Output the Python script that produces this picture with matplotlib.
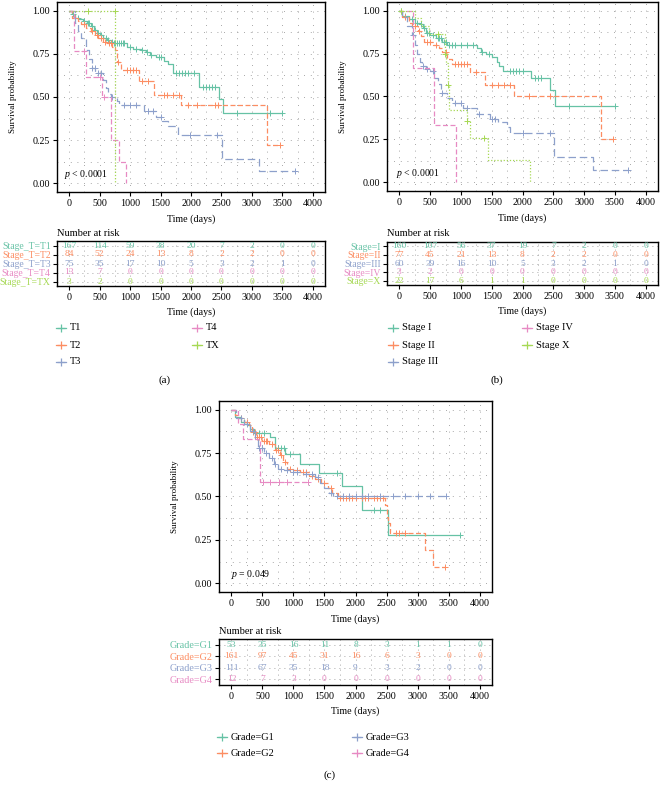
import numpy as np
import matplotlib.pyplot as plt

plt.rcParams['font.family'] = ['Liberation Serif', 'DejaVu Serif']
plt.rcParams['mathtext.fontset'] = 'custom'
plt.rcParams['mathtext.it'] = 'Liberation Serif:italic'
plt.rcParams['mathtext.rm'] = 'Liberation Serif'

W, H = 664, 796
green, orange, blue, pink, lime = '#66c2a5', '#fc8d62', '#8da0cb', '#e78ac3', '#a6d854'
risk_times = [0, 500, 1000, 1500, 2000, 2500, 3000, 3500, 4000]

# ---- (a) Stage_T ----
t1_time = [0, 40, 100, 160, 230, 300, 350, 400, 450, 500, 560, 620, 680, 720, 950, 1050,
           1180, 1260, 1320, 1420, 1550, 1620, 1700, 2130, 2460, 2520]
t1_surv = [1.0, 0.98, 0.96, 0.95, 0.94, 0.93, 0.91, 0.89, 0.87, 0.86, 0.84, 0.83, 0.82, 0.81,
           0.79, 0.78, 0.77, 0.76, 0.745, 0.73, 0.71, 0.69, 0.64, 0.56, 0.49, 0.41]
t1_end = 3490
t1_cens = [60, 150, 250, 310, 330, 370, 420, 470, 520, 600, 640, 700, 740, 760, 790, 820, 850,
           880, 900, 1000, 1100, 1200, 1280, 1350, 1480, 1510, 1750, 1800, 1850, 1900, 1950,
           2050, 2200, 2250, 2300, 2350, 2400, 2750, 3300, 3490]

t2_time = [0, 50, 150, 200, 280, 350, 420, 480, 550, 620, 700, 760, 780, 850, 1150, 1400, 1840, 3250]
t2_surv = [1.0, 0.96, 0.94, 0.92, 0.90, 0.88, 0.86, 0.84, 0.82, 0.81, 0.79, 0.77, 0.70, 0.655,
           0.59, 0.51, 0.455, 0.225]
t2_end = 3460
t2_cens = [100, 250, 380, 450, 520, 590, 650, 680, 800, 950, 1000, 1050, 1100, 1200, 1300,
           1550, 1600, 1700, 1800, 1950, 2100, 2400, 2450, 3460]

t3_time = [0, 100, 150, 200, 270, 330, 370, 430, 560, 600, 640, 690, 780, 820, 1230, 1430,
           1530, 1620, 1790, 2510, 3120]
t3_surv = [1.0, 0.93, 0.88, 0.84, 0.77, 0.72, 0.67, 0.64, 0.60, 0.555, 0.52, 0.50, 0.475,
           0.455, 0.42, 0.385, 0.36, 0.33, 0.28, 0.14, 0.07]
t3_end = 3700
t3_cens = [380, 420, 480, 520, 700, 900, 1000, 1100, 1300, 1380, 1500, 1980, 2420, 3700]

t4_time = [0, 72, 85, 270, 547, 690, 826, 936]
t4_surv = [1.0, 0.923, 0.769, 0.615, 0.50, 0.25, 0.125, 0.0]
t4_end = 936
t4_cens = [250, 509, 575]

tx_time = [0, 755]
tx_surv = [1.0, 0.0]
tx_end = 755
tx_cens = [317, 750]

risk_a = [[167, 114, 59, 38, 20, 7, 2, 0, 0],
          [84, 52, 24, 13, 8, 2, 2, 0, 0],
          [75, 35, 17, 10, 5, 3, 2, 1, 0],
          [13, 7, 0, 0, 0, 0, 0, 0, 0],
          [3, 2, 0, 0, 0, 0, 0, 0, 0]]
rows_a = ['Stage_T=T1', 'Stage_T=T2', 'Stage_T=T3', 'Stage_T=T4', 'Stage_T=TX']
legend_a = ['T1', 'T2', 'T3', 'T4', 'TX']

# ---- (b) Stage ----
s1_time = [0, 50, 150, 250, 330, 380, 430, 500, 600, 700, 780, 1260, 1320, 1400, 1500, 1580,
           1620, 1690, 2136, 2445, 2520]
s1_surv = [1.0, 0.97, 0.95, 0.93, 0.92, 0.90, 0.87, 0.86, 0.84, 0.82, 0.80, 0.78, 0.76, 0.745,
           0.73, 0.70, 0.68, 0.65, 0.61, 0.535, 0.445]
s1_end = 3494
s1_cens = [30, 100, 200, 280, 350, 400, 450, 480, 550, 620, 650, 680, 720, 750, 800, 850, 900,
           1000, 1100, 1200, 1350, 1450, 1800, 1850, 1900, 1950, 2000, 2200, 2250, 2300, 2750, 3494]

s2_time = [0, 50, 150, 200, 300, 350, 400, 550, 650, 700, 780, 850, 1150, 1395, 1859, 3270]
s2_surv = [1.0, 0.96, 0.93, 0.91, 0.88, 0.85, 0.82, 0.80, 0.78, 0.76, 0.72, 0.69, 0.645,
           0.565, 0.50, 0.25]
s2_end = 3467
s2_cens = [100, 250, 320, 450, 500, 600, 750, 900, 950, 1000, 1050, 1100, 1250, 1500, 1600,
           1700, 1800, 2100, 2450, 3467]

s3_time = [0, 50, 130, 200, 250, 280, 330, 370, 430, 500, 560, 620, 680, 780, 850, 1028,
           1257, 1470, 1600, 1750, 1790, 2508, 3148]
s3_surv = [1.0, 0.96, 0.91, 0.86, 0.80, 0.75, 0.70, 0.68, 0.66, 0.65, 0.61, 0.57, 0.52, 0.49,
           0.46, 0.435, 0.40, 0.37, 0.35, 0.32, 0.285, 0.145, 0.072]
s3_end = 3707
s3_cens = [230, 380, 450, 540, 700, 900, 1000, 1100, 1300, 1500, 1550, 2000, 2450, 3707]

s4_time = [0, 218, 565, 927]
s4_surv = [1.0, 0.667, 0.333, 0.0]
s4_end = 927
s4_cens = []

sx_time = [0, 250, 350, 480, 742, 760, 785, 812, 1100, 1146, 1440, 2125]
sx_surv = [1.0, 0.955, 0.909, 0.864, 0.75, 0.694, 0.568, 0.42, 0.358, 0.26, 0.13, 0.0]
sx_end = 2125
sx_cens = [32, 634, 742, 785, 1103, 1377]

risk_b = [[160, 107, 56, 37, 19, 7, 2, 0, 0],
          [77, 45, 21, 13, 8, 2, 2, 0, 0],
          [60, 39, 16, 10, 5, 3, 2, 1, 0],
          [3, 2, 0, 0, 0, 0, 0, 0, 0],
          [22, 17, 6, 1, 1, 0, 0, 0, 0]]
rows_b = ['Stage=I', 'Stage=II', 'Stage=III', 'Stage=IV', 'Stage=X']
legend_b = ['Stage I', 'Stage II', 'Stage III', 'Stage IV', 'Stage X']

# ---- (c) Grade ----
g1_time = [0, 64, 150, 250, 300, 360, 620, 700, 870, 1098, 1419, 1778, 2110, 2517]
g1_surv = [1.0, 0.96, 0.93, 0.91, 0.89, 0.865, 0.84, 0.78, 0.745, 0.69, 0.635, 0.56, 0.42, 0.28]
g1_end = 3679
g1_cens = [200, 450, 520, 750, 800, 850, 950, 1700, 2300, 2400, 3679]

g2_time = [0, 60, 100, 200, 280, 330, 400, 500, 600, 700, 780, 830, 900, 1000, 1100, 1250,
           1350, 1450, 1550, 1620, 1720, 2480, 2500, 2520, 2550, 3117, 3250]
g2_surv = [1.0, 0.97, 0.95, 0.93, 0.91, 0.87, 0.84, 0.82, 0.80, 0.77, 0.74, 0.70, 0.66, 0.65,
           0.64, 0.62, 0.60, 0.58, 0.55, 0.52, 0.49, 0.45, 0.38, 0.35, 0.29, 0.19, 0.095]
g2_end = 3438
g2_cens = [150, 250, 350, 380, 420, 450, 480, 520, 550, 580, 650, 720, 750, 800, 870, 950,
           1050, 1150, 1200, 1300, 1400, 1500, 1600, 1750, 1800, 1850, 1900, 1950, 2000, 2100,
           2150, 2200, 2300, 2350, 2400, 2450, 2650, 2700, 2800, 3438]

g3_time = [0, 80, 200, 300, 380, 430, 530, 600, 680, 750, 850, 950, 1150, 1350, 1430, 1500,
           1570, 1644]
g3_surv = [1.0, 0.95, 0.92, 0.88, 0.83, 0.78, 0.75, 0.72, 0.69, 0.66, 0.65, 0.64, 0.63, 0.61,
           0.58, 0.55, 0.52, 0.50]
g3_end = 3465
g3_cens = [150, 250, 350, 450, 500, 560, 650, 700, 800, 900, 1000, 1050, 1200, 1300, 1400,
           1600, 1700, 1800, 1900, 2000, 2100, 2200, 2400, 2600, 2800, 3000, 3200, 3465]

g4_time = [0, 100, 182, 466]
g4_surv = [1.0, 0.917, 0.833, 0.583]
g4_end = 1230
g4_cens = [510, 620, 760, 900, 1230]

risk_c = [[53, 35, 16, 11, 8, 3, 1, 1, 0],
          [161, 97, 45, 31, 16, 6, 3, 0, 0],
          [111, 67, 35, 18, 9, 3, 2, 0, 0],
          [12, 7, 3, 0, 0, 0, 0, 0, 0]]
rows_c = ['Grade=G1', 'Grade=G2', 'Grade=G3', 'Grade=G4']
legend_c = ['Grade=G1', 'Grade=G2', 'Grade=G3', 'Grade=G4']

colors = [green, orange, blue, pink, lime]
styles = ['-', (0, (4, 2)), (0, (6, 3)), (0, (4, 2)), (0, (1, 1.5))]

fig = plt.figure(figsize=(W / 100, H / 100), dpi=100)
over = fig.add_axes([0, 0, 1, 1])
over.set_xlim(0, W)
over.set_ylim(H, 0)
over.axis('off')


def box(l, t, r, b):
    return [l / W, 1 - b / H, (r - l) / W, (b - t) / H]


def km(ax, t, s, end, cens, color, ls):
    ax.step(list(t) + [end], list(s) + [s[-1]], where='post', color=color, ls=ls, lw=0.9)
    if len(cens):
        idx = np.searchsorted(t, cens, side='right') - 1
        ax.plot(cens, np.array(s)[idx], ls='none', marker='+', ms=4.5, mew=0.7, color=color)


def dotted_grid(ax):
    ax.grid(which='both', ls=(0, (1, 7)), color='#8a8a8a', lw=0.6)
    ax.tick_params(which='minor', length=0)
    ax.tick_params(which='major', length=3, width=0.8, labelsize=7.2, pad=2)
    for sp in ax.spines.values():
        sp.set_linewidth(1.0)


def panel(main_box, table_box, curves, pval, pval_x, risk, rows, row_fs):
    ax = fig.add_axes(box(*main_box))
    for (t, s, end, cens), c, ls in zip(curves, colors, styles):
        km(ax, t, s, end, cens, c, ls)
    ax.set_xlim(-200, 4200)
    ax.set_ylim(-0.05, 1.05)
    ax.set_xticks(risk_times)
    ax.set_xticks(np.arange(0, 4001, 250), minor=True)
    ax.set_yticks([0, 0.25, 0.5, 0.75, 1.0])
    ax.set_yticklabels(['0.00', '0.25', '0.50', '0.75', '1.00'])
    ax.set_yticks(np.arange(0, 1.01, 0.125), minor=True)
    dotted_grid(ax)
    ax.set_xlabel('Time (days)', fontsize=7.2, labelpad=5)
    ax.set_ylabel('Survival probability', fontsize=6.5, labelpad=11)
    ax.text(pval_x, 0.05, pval, fontsize=7, va='center', ha='left')

    tb = fig.add_axes(box(*table_box))
    n = len(risk)
    for i, vals in enumerate(risk):
        for x, v in zip(risk_times, vals):
            tb.text(x, i, str(v), ha='center', va='center', fontsize=6.8, color=colors[i])
    tb.set_xlim(-200, 4200)
    tb.set_ylim(n - 0.5, -0.5)
    tb.set_xticks(risk_times)
    tb.set_xticks(np.arange(0, 4001, 250), minor=True)
    tb.set_yticks(range(n))
    tb.set_yticklabels(rows, fontsize=row_fs)
    for lab, c in zip(tb.get_yticklabels(), colors):
        lab.set_color(c)
    dotted_grid(tb)
    tb.grid(which='both', visible=False)
    tb.grid(axis='x', which='both', ls=(0, (1, 5)), color='#8a8a8a', lw=0.6)
    tb.grid(axis='y', which='major', ls=(0, (1, 5)), color='#8a8a8a', lw=0.6)
    tb.tick_params(axis='y', labelsize=row_fs, pad=1.5)
    tb.set_xlabel('Time (days)', fontsize=7.2, labelpad=4)
    over.text(table_box[0], table_box[1] - 8, 'Number at risk', fontsize=7.5, va='center', ha='left')


def legend(labels, xs, ys, ncol1):
    for k, lab in enumerate(labels):
        col = 0 if k < ncol1 else 1
        row = k if k < ncol1 else k - ncol1
        x, y = xs[col], ys[row]
        over.plot([x - 5, x + 5], [y, y], color=colors[k], lw=0.9)
        over.plot([x], [y], marker='+', ms=5.5, mew=0.9, color=colors[k])
        over.text(x + 9, y, lab, fontsize=7.5, va='center', ha='left')


curves_a = [(t1_time, t1_surv, t1_end, t1_cens), (t2_time, t2_surv, t2_end, t2_cens),
            (t3_time, t3_surv, t3_end, t3_cens), (t4_time, t4_surv, t4_end, t4_cens),
            (tx_time, tx_surv, tx_end, tx_cens)]
curves_b = [(s1_time, s1_surv, s1_end, s1_cens), (s2_time, s2_surv, s2_end, s2_cens),
            (s3_time, s3_surv, s3_end, s3_cens), (s4_time, s4_surv, s4_end, s4_cens),
            (sx_time, sx_surv, sx_end, sx_cens)]
curves_c = [(g1_time, g1_surv, g1_end, g1_cens), (g2_time, g2_surv, g2_end, g2_cens),
            (g3_time, g3_surv, g3_end, g3_cens), (g4_time, g4_surv, g4_end, g4_cens)]

panel((57, 2, 325, 192), (57, 241, 325, 286), curves_a, r'$p$ < 0.0001', -80,
      risk_a, rows_a, 7.0)
panel((387, 2, 658, 191), (387, 242, 658, 285), curves_b, r'$p$ < 0.0001', -50,
      risk_b, rows_b, 7)
panel((219, 401, 492, 592), (219, 639, 492, 685), curves_c, r'$p$ = 0.049', 0,
      risk_c, rows_c, 7.3)

legend(legend_a, [61, 197], [328, 345, 362], 3)
legend(legend_b, [393, 527], [328, 345, 362], 3)
legend(legend_c, [222, 357], [737, 753], 2)

over.text(165, 380, '(a)', fontsize=8, ha='center', va='center')
over.text(497, 380, '(b)', fontsize=8, ha='center', va='center')
over.text(330, 775, '(c)', fontsize=8, ha='center', va='center')

fig.savefig('out.png', dpi=100)
